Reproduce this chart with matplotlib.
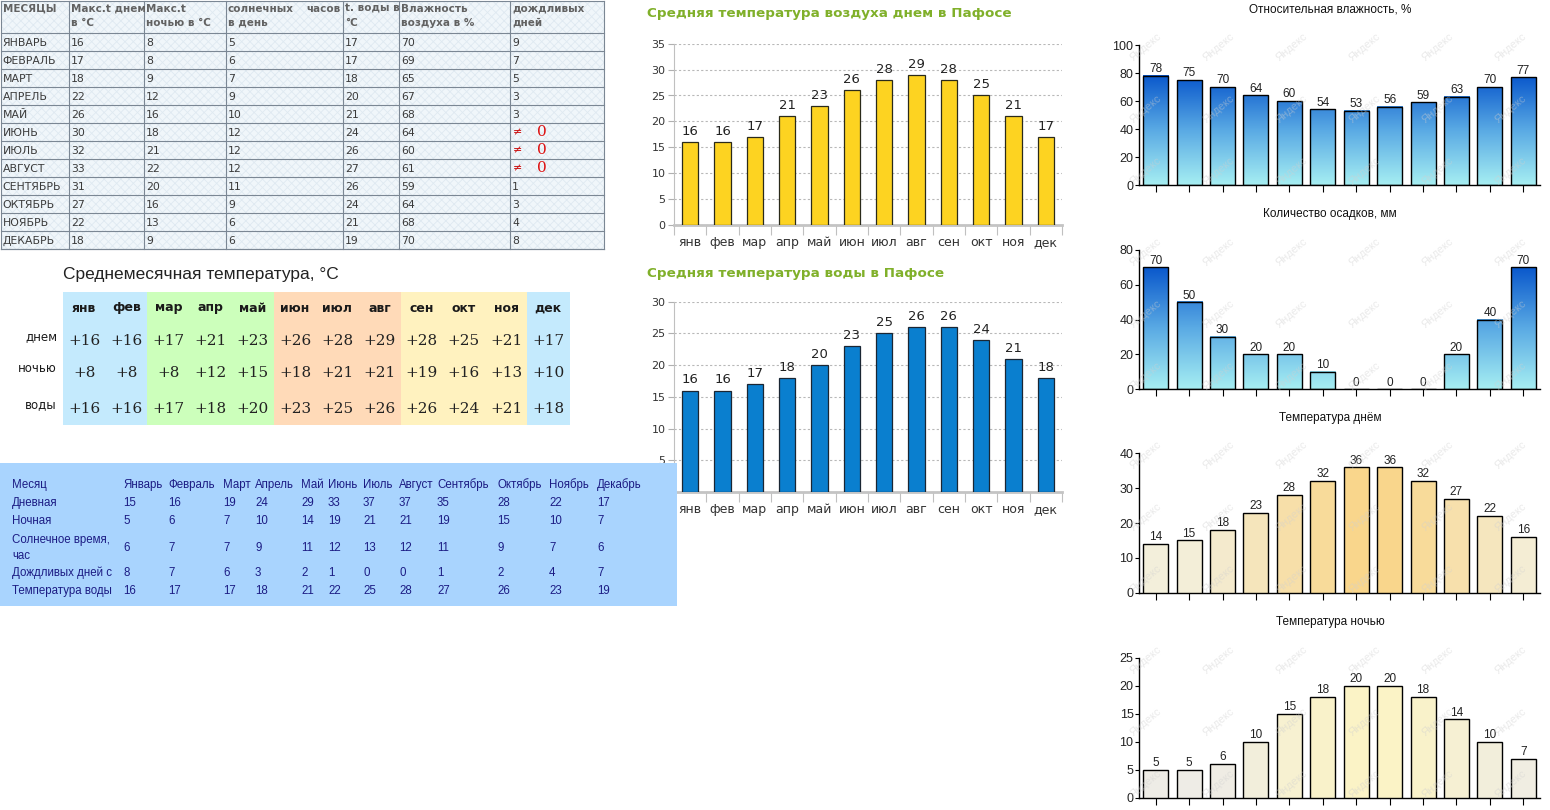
import numpy as np
import matplotlib
matplotlib.use('Agg')
import matplotlib.pyplot as plt
from matplotlib.patches import Rectangle
from matplotlib.colors import LinearSegmentedColormap, Normalize

plt.rcParams['font.family'] = ['DejaVu Sans']
plt.rcParams['hatch.linewidth'] = 0.6

# ---------------- data ----------------
months_upper = ['ЯНВАРЬ', 'ФЕВРАЛЬ', 'МАРТ', 'АПРЕЛЬ', 'МАЙ', 'ИЮНЬ', 'ИЮЛЬ',
                'АВГУСТ', 'СЕНТЯБРЬ', 'ОКТЯБРЬ', 'НОЯБРЬ', 'ДЕКАБРЬ']
t1_headers = ['МЕСЯЦЫ', 'Макс.t днем\nв °С', 'Макс.t\nночью в °С',
              'солнечных\nв день', 't. воды в\n°С',
              'Влажность\nвоздуха в %', 'дождливых\nдней']
t1_day = [16, 17, 18, 22, 26, 30, 32, 33, 31, 27, 22, 18]
t1_night = [8, 8, 9, 12, 16, 18, 21, 22, 20, 16, 13, 9]
t1_sun = [5, 6, 7, 9, 10, 12, 12, 12, 11, 9, 6, 6]
t1_water = [17, 17, 18, 20, 21, 24, 26, 27, 26, 24, 21, 19]
t1_hum = [70, 69, 65, 67, 68, 64, 60, 61, 59, 64, 68, 70]
t1_rain = [9, 7, 5, 3, 3, 0, 0, 0, 1, 3, 4, 8]

months_short = ['янв', 'фев', 'мар', 'апр', 'май', 'июн', 'июл', 'авг',
                'сен', 'окт', 'ноя', 'дек']
avg_rows = ['днем', 'ночью', 'воды']
avg_day = [16, 16, 17, 21, 23, 26, 28, 29, 28, 25, 21, 17]
avg_night = [8, 8, 8, 12, 15, 18, 21, 21, 19, 16, 13, 10]
avg_water = [16, 16, 17, 18, 20, 23, 25, 26, 26, 24, 21, 18]

bt_months = ['Январь', 'Февраль', 'Март', 'Апрель', 'Май', 'Июнь', 'Июль',
             'Август', 'Сентябрь', 'Октябрь', 'Ноябрь', 'Декабрь']
bt_labels = ['Месяц', 'Дневная', 'Ночная', 'Солнечное время,\nчас',
             'Дождливых дней с', 'Температура воды']
bt_day = [15, 16, 19, 24, 29, 33, 37, 37, 35, 28, 22, 17]
bt_night = [5, 6, 7, 10, 14, 19, 21, 21, 19, 15, 10, 7]
bt_sun = [6, 7, 7, 9, 11, 12, 13, 12, 11, 9, 7, 6]
bt_rain = [8, 7, 6, 3, 2, 1, 0, 0, 1, 2, 4, 7]
bt_water = [16, 17, 17, 18, 21, 22, 25, 28, 27, 26, 23, 19]

air_day = [16, 16, 17, 21, 23, 26, 28, 29, 28, 25, 21, 17]
sea_temp = [16, 16, 17, 18, 20, 23, 25, 26, 26, 24, 21, 18]

humidity = [78, 75, 70, 64, 60, 54, 53, 56, 59, 63, 70, 77]
precip = [70, 50, 30, 20, 20, 10, 0, 0, 0, 20, 40, 70]
ya_day = [14, 15, 18, 23, 28, 32, 36, 36, 32, 27, 22, 16]
ya_night = [5, 5, 6, 10, 15, 18, 20, 20, 18, 14, 10, 7]

# ---------------- figure ----------------
W, H = 1550, 810
fig = plt.figure(figsize=(W / 100, H / 100), dpi=100)
fig.patch.set_facecolor('white')


def axpx(x0, y0, x1, y1):
    return fig.add_axes([x0 / W, 1 - y1 / H, (x1 - x0) / W, (y1 - y0) / H])


def overlay(x0, y0, x1, y1):
    ax = axpx(x0, y0, x1, y1)
    ax.set_xlim(x0, x1)
    ax.set_ylim(y1, y0)
    ax.axis('off')
    return ax


# ---------------- table 1 (top-left) ----------------
ta = overlay(0, 0, 606, 251)
col_b = [0.5, 69, 144, 226, 343, 399, 510, 604]
row_top, row_h = 33, 18
ta.add_patch(Rectangle((0.5, 0.5), 603.5, 248.5, facecolor='#f0f6fa',
                       hatch='xxxx', edgecolor='#dfe9f1', lw=0, zorder=0))
grid_c = '#7b8794'
for i in range(13 + 1):
    y = 0.5 if i == 0 else row_top + (i - 1) * row_h
    ta.plot([0.5, 604], [y, y], color=grid_c, lw=0.8, zorder=2)
ta.plot([0.5, 604], [249, 249], color=grid_c, lw=0.8, zorder=2)
for xb in col_b:
    ta.plot([xb, xb], [0.5, 249], color=grid_c, lw=0.8, zorder=2)
for j, hd in enumerate(t1_headers):
    ta.text(col_b[j] + 2, 3.5, hd, ha='left', va='top', fontsize=7.5,
            fontweight='bold', color='#626262', linespacing=1.5, zorder=3)
# justified second word of the sunshine header
ta.text(col_b[4] - 2, 3.5, 'часов', ha='right', va='top', fontsize=7.5,
        fontweight='bold', color='#626262', zorder=3)
cols = [months_upper, t1_day, t1_night, t1_sun, t1_water, t1_hum, t1_rain]
for i in range(12):
    yc = row_top + i * row_h + row_h / 2 + 0.5
    for j, col in enumerate(cols):
        v = col[i]
        if j == 6 and v == 0:
            ta.text(col_b[j] + 3, yc, '≠', ha='left', va='center',
                    fontsize=8, color='#cc1111', zorder=3)
            ta.text(col_b[j] + 27, yc, str(v), ha='left', va='center',
                    fontsize=11, color='#dd1111', family='DejaVu Serif', zorder=3)
        else:
            ta.text(col_b[j] + 2, yc, str(v), ha='left', va='center',
                    fontsize=7.8, color='#3a3a3a', zorder=3)

# ---------------- table 2 (average monthly) ----------------
tb = overlay(0, 255, 600, 430)
tb.text(63, 274, 'Среднемесячная температура, °C', ha='left', va='center',
        fontsize=12.5, family='Liberation Sans', color='#222222')
season_colors = ['#c4eafd'] * 2 + ['#ccffbb'] * 3 + ['#ffdab8'] * 3 + \
    ['#fff2bf'] * 3 + ['#c4eafd']
cw = 42.2
x_start = 63
for i, m in enumerate(months_short):
    x0 = x_start + i * cw
    tb.add_patch(Rectangle((x0, 292), cw + 0.3, 133, facecolor=season_colors[i],
                           edgecolor='none', zorder=0))
    xc = x0 + cw / 2
    tb.text(xc, 308, m, ha='center', va='center', fontsize=9,
            fontweight='bold', color='#1a1a1a')
    for r, (vals, yy) in enumerate(zip([avg_day, avg_night, avg_water],
                                       [341, 373, 409])):
        tb.text(xc, yy, '+' + str(vals[i]), ha='center', va='center',
                fontsize=11, family='DejaVu Serif', color='#222222')
for lab, yy in zip(avg_rows, [337, 369, 405]):
    tb.text(57, yy, lab, ha='right', va='center', fontsize=8.5, color='#1a1a1a')

# ---------------- charts: air / water temperature ----------------
x = np.arange(12)
fig.text(647 / W, 1 - 13 / H, 'Средняя температура воздуха днем в Пафосе',
         ha='left', va='center', fontsize=9.7, fontweight='bold', color='#80b02a')
fig.text(647 / W, 1 - 273 / H, 'Средняя температура воды в Пафосе',
         ha='left', va='center', fontsize=9.7, fontweight='bold', color='#80b02a')


def green_chart(ax, vals, ymax, color, edge):
    ax.bar(x, vals, width=0.5, color=color, edgecolor=edge, lw=0.9, zorder=3)
    ax.set_xlim(-0.5, 11.5)
    ax.set_ylim(0, ymax)
    ax.set_yticks(np.arange(0, ymax + 1, 5))
    ax.yaxis.grid(True, ls=(0, (2, 2)), color='#b8b8b8', lw=0.8)
    ax.set_axisbelow(True)
    for s in ['top', 'right']:
        ax.spines[s].set_visible(False)
    ax.spines['left'].set_color('#c0c0c0')
    ax.spines['bottom'].set_color('#c4c4c4')
    ax.spines['bottom'].set_linewidth(2)
    ax.tick_params(axis='y', length=4, color='#b0b0b0', labelsize=8,
                   labelcolor='#333333', pad=2)
    ax.set_xticks(np.arange(-0.5, 12, 1))
    ax.set_xticklabels([])
    ax.tick_params(axis='x', which='major', length=7, color='#c0c0c0')
    ax.set_xticks(x, minor=True)
    ax.set_xticklabels(months_short, minor=True)
    ax.tick_params(axis='x', which='minor', length=0, pad=8, labelsize=9,
                   labelcolor='#333333')
    for i, v in enumerate(vals):
        ax.annotate(str(v), (i, v), xytext=(0, 3), textcoords='offset points',
                    ha='center', va='bottom', fontsize=9.5, color='#222222')


ax1 = axpx(674, 43.7, 1062, 225)
green_chart(ax1, air_day, 35, '#fdd321', '#2a2a1a')

ax2 = axpx(674, 301.7, 1062, 492)
green_chart(ax2, sea_temp, 30, '#0a7fcf', '#1a2633')

# ---------------- table 3 (blue, overlays water chart) ----------------
tc = overlay(0, 463, 678, 607)
tc.add_patch(Rectangle((0, 463), 677, 143, facecolor='#a9d4fe',
                       edgecolor='none', zorder=0))
bt_x = [123, 168, 223, 255, 301, 328, 363, 399, 437, 497, 549, 597]
bt_y = [485, 503, 521, 548, 573, 591]
navy = '#1c1c84'
for lab, yy in zip(bt_labels, bt_y):
    tc.text(12, yy, lab, ha='left', va='center', fontsize=8.3,
            family='Liberation Sans', color=navy, linespacing=1.5)
rows = [bt_months, bt_day, bt_night, bt_sun, bt_rain, bt_water]
for vals, yy in zip(rows, bt_y):
    for xx, v in zip(bt_x, vals):
        tc.text(xx, yy, str(v), ha='left', va='center',
                fontsize=8.3, family='Liberation Sans', color=navy)

# ---------------- Yandex charts (right) ----------------
blue_cmap = LinearSegmentedColormap.from_list(
    'hum', ['#a6eef2', '#5aaae4', '#0a58cc'])
day_cmap = LinearSegmentedColormap.from_list('day', ['#f3efdb', '#f9d68c'])
night_cmap = LinearSegmentedColormap.from_list('night', ['#eeece6', '#fbf3c6'])
YF = 'Liberation Sans'


def yandex_axes(y0, y1, ymax, step, title, title_y):
    ax = axpx(1139, y0, 1540, y1)
    ax.set_xlim(-0.5, 11.5)
    ax.set_ylim(0, ymax)
    ax.set_yticks(np.arange(0, ymax + 1, step))
    ax.set_xticks(x)
    ax.set_xticklabels([])
    for s in ['top', 'right']:
        ax.spines[s].set_visible(False)
    for s in ['left', 'bottom']:
        ax.spines[s].set_color('black')
        ax.spines[s].set_linewidth(1)
    ax.tick_params(axis='y', length=3, width=0.8, labelsize=9, pad=1,
                   labelcolor='#222222', labelfontfamily=YF)
    ax.tick_params(axis='x', length=5, width=0.8)
    fig.text(1330 / W, 1 - title_y / H, title, ha='center', va='center',
             fontsize=8.5, family=YF, color='#111111')
    return ax


def gradient_bars(ax, vals, ymax):
    vmax = max(vals)
    for i, v in enumerate(vals):
        if v > 0:
            grad = np.linspace(0, v, 200).reshape(-1, 1)
            ax.imshow(grad, extent=(i - 0.375, i + 0.375, 0, v), origin='lower',
                      cmap=blue_cmap, vmin=0, vmax=vmax, aspect='auto', zorder=2)
    ax.bar(x, vals, width=0.75, fill=False, edgecolor='black', lw=1, zorder=3)
    ax.set_xlim(-0.5, 11.5)
    ax.set_ylim(0, ymax)
    for i, v in enumerate(vals):
        ax.annotate(str(v), (i, v), xytext=(0, 0.5), textcoords='offset points',
                    ha='center', va='bottom', fontsize=8.5, family=YF,
                    color='#222222', zorder=4)


def flat_bars(ax, vals, cmap):
    norm = Normalize(min(vals), max(vals))
    ax.bar(x, vals, width=0.75, color=[cmap(norm(v)) for v in vals],
           edgecolor='black', lw=1, zorder=3)
    for i, v in enumerate(vals):
        ax.annotate(str(v), (i, v), xytext=(0, 0.5), textcoords='offset points',
                    ha='center', va='bottom', fontsize=8.5, family=YF,
                    color='#222222', zorder=4)


ya1 = yandex_axes(45, 185, 100, 20, 'Относительная влажность, %', 10)
gradient_bars(ya1, humidity, 100)
ya2 = yandex_axes(250, 389.3, 80, 20, 'Количество осадков, мм', 214)
gradient_bars(ya2, precip, 80)
ya3 = yandex_axes(453.3, 592.7, 40, 10, 'Температура днём', 418)
flat_bars(ya3, ya_day, day_cmap)
ya4 = yandex_axes(657.7, 797.7, 25, 5, 'Температура ночью', 622)
flat_bars(ya4, ya_night, night_cmap)

# watermarks
wm = overlay(1100, 0, 1550, 810)
for top in [45, 250, 453, 658]:
    for dy in [2, 64, 126]:
        for c in range(6):
            wm.text(1146 + c * 73, top + dy, 'Яндекс', rotation=40, ha='center',
                    va='center', fontsize=8, family=YF, color='#d0d0d0',
                    alpha=0.45, zorder=10)

fig.savefig('out.png', dpi=100, facecolor='white')
